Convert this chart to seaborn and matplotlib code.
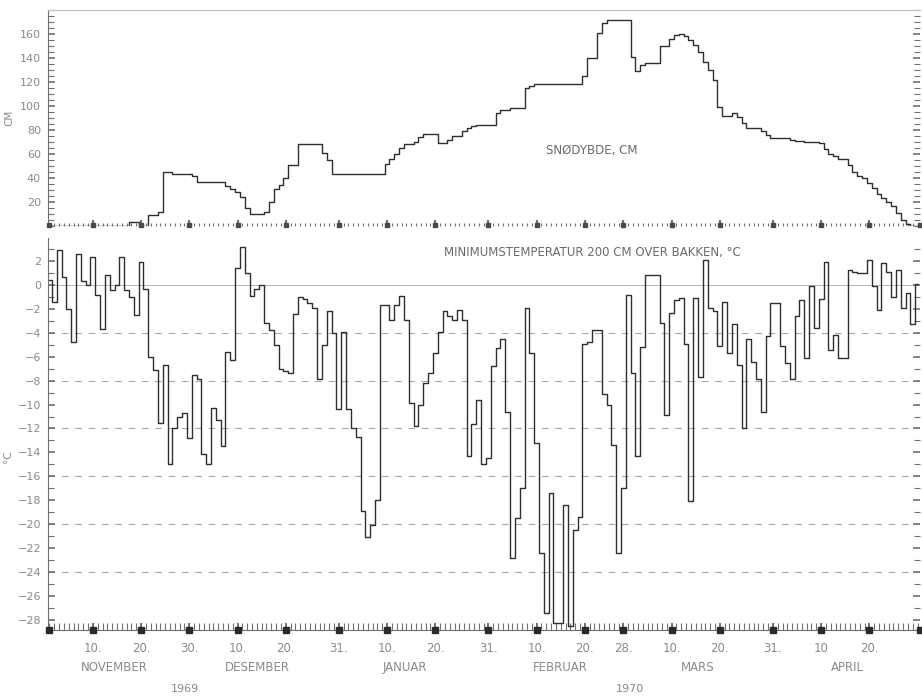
import numpy as np
import pandas as pd
import matplotlib
matplotlib.use("Agg")
import matplotlib.pyplot as plt
import matplotlib.transforms as mtransforms
import seaborn as sns

# Daily series, 1 Nov 1969 (day 0) to 30 Apr 1970 (day 180)
snow_cm = [
    0, 0, 0, 0, 0, 0, 0, 0, 0, 0,
    0, 0, 0, 0, 0, 0, 0, 3, 3, 0,
    0, 9, 9, 12, 45, 45, 43, 43, 43, 43,
    42, 37, 37, 37, 37, 37, 37, 33, 31, 28,
    24, 15, 10, 10, 10, 12, 20, 31, 34, 40,
    51, 51, 68, 68, 68, 68, 68, 61, 55, 43,
    43, 43, 43, 43, 43, 43, 43, 43, 43, 43,
    52, 56, 60, 65, 68, 68, 70, 74, 77, 77,
    77, 69, 69, 72, 75, 75, 79, 82, 83, 84,
    84, 84, 84, 94, 97, 97, 98, 98, 98, 115,
    117, 118, 118, 118, 118, 118, 118, 118, 118, 118,
    118, 125, 140, 140, 161, 169, 172, 172, 172, 172,
    172, 141, 129, 134, 136, 136, 136, 150, 150, 156,
    159, 160, 158, 155, 151, 145, 137, 130, 122, 99,
    92, 92, 94, 91, 86, 82, 82, 82, 79, 76,
    73, 73, 73, 73, 72, 71, 71, 70, 70, 70,
    69, 64, 60, 58, 56, 56, 51, 45, 42, 40,
    36, 32, 27, 23, 20, 17, 11, 5, 2, 0,
    0,
]

tmin_c = [
    0.4, -1.4, 2.9, 0.7, -2.0, -4.8, 2.6, 0.3, 0.0, 2.3,
    -0.8, -3.7, 0.8, -0.4, 0.0, 2.3, -0.4, -1.0, -2.5, 1.9,
    -0.3, -6.0, -7.1, -11.5, -6.7, -15.0, -12.0, -11.0, -10.7, -12.8,
    -7.5, -7.9, -14.1, -15.0, -10.3, -11.3, -13.5, -5.6, -6.3, 1.4,
    3.2, 1.0, -0.9, -0.3, 0.0, -3.2, -3.8, -5.0, -7.0, -7.2,
    -7.4, -2.4, -1.0, -1.2, -1.5, -1.9, -7.9, -5.0, -2.2, -4.0,
    -10.4, -3.9, -10.4, -12.0, -12.7, -18.9, -21.1, -20.1, -18.0, -1.7,
    -1.7, -2.9, -1.7, -0.9, -2.9, -9.9, -11.8, -10.0, -8.2, -7.4,
    -5.7, -3.9, -2.2, -2.6, -2.9, -2.1, -2.9, -14.3, -11.6, -9.6,
    -15.0, -14.5, -6.8, -5.3, -4.5, -10.6, -22.8, -19.5, -17.0, -1.9,
    -5.7, -13.2, -22.4, -27.4, -17.4, -28.3, -28.3, -18.4, -28.5, -20.5,
    -19.4, -4.9, -4.8, -3.8, -3.8, -9.1, -10.0, -13.4, -22.4, -17.0,
    -0.8, -7.4, -14.3, -5.2, 0.8, 0.8, 0.8, -3.2, -10.9, -2.3,
    -1.25, -1.1, -4.9, -18.1, -1.1, -7.7, 2.1, -1.95, -2.2, -5.1,
    -1.4, -5.7, -3.3, -6.7, -12.0, -4.5, -6.4, -7.9, -10.6, -4.3,
    -1.5, -1.5, -5.1, -6.5, -7.9, -2.6, -1.25, -6.1, -0.1, -3.6,
    -1.2, 1.95, -5.4, -4.2, -6.1, -6.1, 1.25, 1.1, 1.0, 1.0,
    2.1, -0.1, -2.1, 1.8, 1.1, -1.0, 1.25, -1.95, -0.7, -3.3,
    0.1,
]

# Date ticks (day index and printed day number)
tick_days = [9, 19, 29, 39, 49, 60, 70, 80, 91, 101, 111, 119, 129, 139, 150, 160, 170]
tick_labels = ["10.", "20.", "30.", "10.", "20.", "31.", "10.", "20.", "31.",
               "10.", "20.", "28.", "10.", "20.", "31.", "10", "20."]
marker_days = [0] + tick_days + [180.4]
month_names = ["NOVEMBER", "DESEMBER", "JANUAR", "FEBRUAR", "MARS", "APRIL"]
month_pos = [13.5, 43.2, 73.6, 106.0, 134.4, 165.4]
years = ["1969", "1970"]
year_pos = [28.1, 120.3]

snow_ticks = [20, 40, 60, 80, 100, 120, 140, 160]
temp_ticks = list(range(-28, 3, 2))
temp_guides = [-4, -8, -12, -16, -20, -24]

sns.set_theme(style="white")
plt.rcParams["font.family"] = ["Liberation Sans Narrow", "DejaVu Sans"]

LINE = "#2e2e2e"
AXC = "#6f6f6f"
TXT = "#8a8a8a"

df = pd.DataFrame({"dag": np.arange(len(snow_cm)), "snodybde": snow_cm, "tmin": tmin_c})

W, H = 922, 697
fig = plt.figure(figsize=(W / 100, H / 100), dpi=100)
fig.patch.set_facecolor("white")
ax1 = fig.add_axes([48 / W, 1 - 226 / H, 872 / W, 216 / H])
ax2 = fig.add_axes([48 / W, 1 - 630 / H, 872 / W, 392 / H])

line_kw = dict(color=LINE, linewidth=1.0, drawstyle="steps-mid", estimator=None)
sns.lineplot(data=df, x="dag", y="snodybde", ax=ax1, **line_kw)
sns.lineplot(data=df, x="dag", y="tmin", ax=ax2, **line_kw)

xlim = (-0.3, 180.5)
for ax in (ax1, ax2):
    ax.set_xlim(*xlim)
    ax.set_xlabel("")
    ax.set_ylabel("")
    ax.set_facecolor("white")
    ax.set_xticks(tick_days)
    ax.set_xticks(np.arange(0, 181, 1), minor=True)
    ax.tick_params(axis="y", which="both", direction="in", left=True, right=True,
                   color=AXC, labelcolor=TXT, labelsize=8, pad=5)
    ax.tick_params(axis="y", which="major", length=5, width=1.2)
    ax.tick_params(axis="y", which="minor", length=4, width=0.8)
    ax.spines["right"].set_visible(False)
    ax.spines["left"].set_color(AXC)
    ax.spines["left"].set_linewidth(0.8)

# Snow depth panel
ax1.set_ylim(0, 180)
ax1.set_yticks(snow_ticks)
ax1.set_yticks(np.arange(0, 181, 5), minor=True)
ax1.tick_params(axis="x", which="both", direction="in", bottom=True, top=False,
                labelbottom=False, color=AXC)
ax1.tick_params(axis="x", which="major", length=4, width=1.6)
ax1.tick_params(axis="x", which="minor", length=2.5, width=0.8)
ax1.spines["bottom"].set_visible(False)
ax1.spines["top"].set_color("#c4c4c4")
ax1.spines["top"].set_linewidth(0.9)
ax1.text(112.4, 63, "SNØDYBDE, CM", ha="center", va="center", fontsize=8.5, color="#6a6a6a")
fig.text(9 / W, 1 - 118 / H, "CM", rotation=90, ha="center", va="center", fontsize=7.5, color=TXT)

# Minimum temperature panel
ax2.set_ylim(-28.85, 3.93)
ax2.set_yticks(temp_ticks)
ax2.set_yticks(np.arange(-28, 4, 1), minor=True)
ax2.set_xticklabels(tick_labels)
ax2.tick_params(axis="x", which="both", direction="in", bottom=True, top=False,
                color=AXC, labelcolor=TXT, labelsize=8.5, pad=9)
ax2.tick_params(axis="x", which="major", length=5, width=1.4)
ax2.tick_params(axis="x", which="minor", length=5, width=0.8)
ax2.spines["top"].set_visible(False)
ax2.spines["bottom"].set_color(AXC)
ax2.spines["bottom"].set_linewidth(0.8)
for g in temp_guides:
    ax2.axhline(g, color="#a8a8a8", linewidth=0.8, linestyle=(0, (6, 6)), zorder=0)
ax2.axhline(0, color="#b5b5b5", linewidth=0.7, zorder=0)
ax2.text(112.6, 2.7, "MINIMUMSTEMPERATUR 200 CM OVER BAKKEN, °C", ha="center",
         va="center", fontsize=8.5, color="#6a6a6a")
fig.text(8 / W, 1 - 457 / H, "°C", rotation=90, ha="center", va="center", fontsize=7.5, color=TXT)

# Square date markers along both time axes
trans2 = mtransforms.blended_transform_factory(ax2.transData, ax2.transAxes)
ax2.plot(marker_days, [0] * len(marker_days), linestyle="none", marker="s", markersize=4,
         color="#2a2a2a", transform=trans2, clip_on=False, zorder=5)
trans1 = mtransforms.blended_transform_factory(ax1.transData, ax1.transAxes)
ax1.plot(marker_days, [0.005] * len(marker_days), linestyle="none", marker="s", markersize=2.5,
         color="#4a4a4a", transform=trans1, clip_on=False, zorder=5)

# Month and year captions below the date ticks
for name, pos in zip(month_names, month_pos):
    ax2.text(pos, -0.095, name, transform=trans2, ha="center", va="center",
             fontsize=8.5, color=TXT)
for yr, pos in zip(years, year_pos):
    ax2.text(pos, -0.15, yr, transform=trans2, ha="center", va="center",
             fontsize=8, color=TXT)

fig.savefig("out.png", dpi=100, facecolor="white")
